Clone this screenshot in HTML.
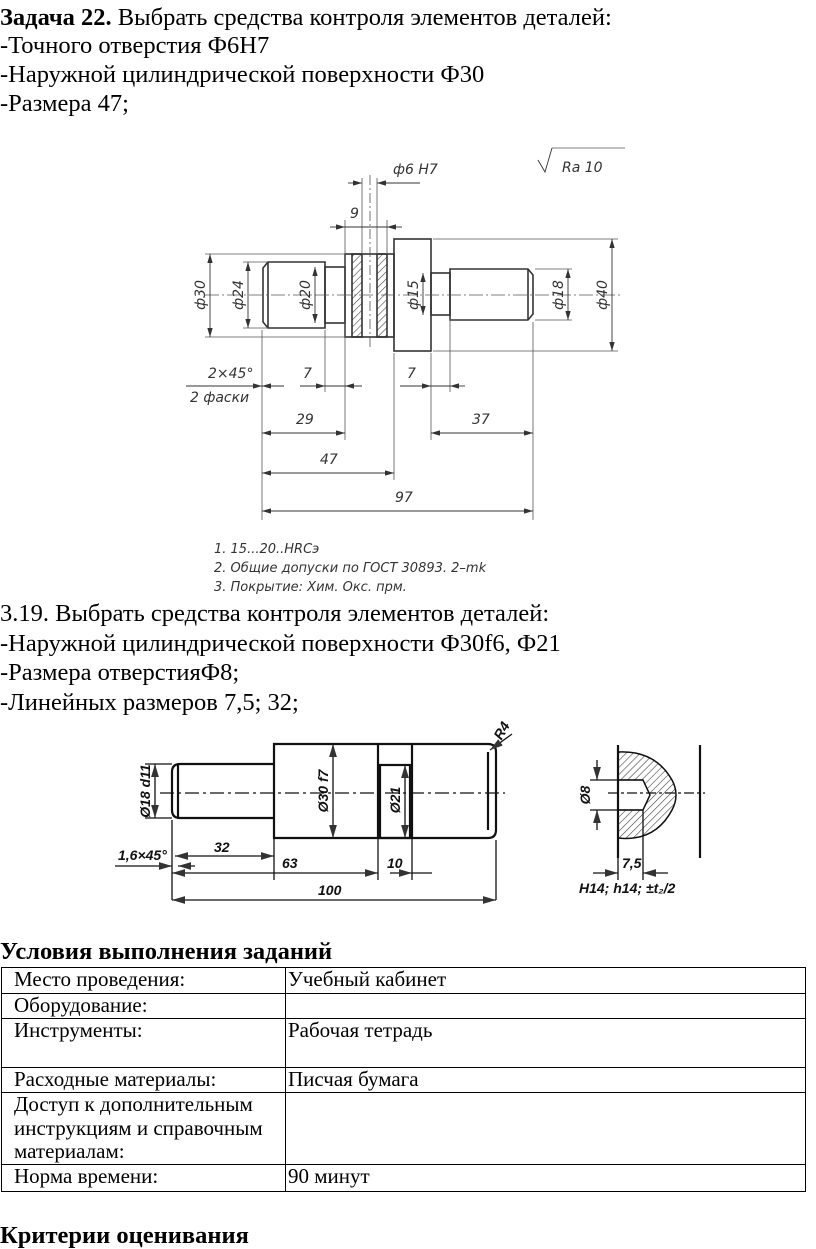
<!DOCTYPE html>
<html><head><meta charset="utf-8"><style>
body{margin:0;width:816px;height:1248px;background:#fff;position:relative;overflow:hidden;font-family:"Liberation Serif","Noto Serif CJK SC",serif;color:#000}
.t{position:absolute;left:0;font-size:24.5px;white-space:nowrap;line-height:26px}
svg{position:absolute;left:0;top:0}
table{position:absolute;left:1px;top:967px;width:805px;border-collapse:collapse;font-size:21px}
td{border:1px solid #000;padding:0 0 0 12px;vertical-align:top;line-height:23.5px}
td+td{padding-left:2px}
</style></head><body>
<div class="t" style="top:5px"><b>Задача 22.</b> Выбрать средства контроля элементов деталей:</div>
<div class="t" style="top:33px">-Точного отверстия Ф6Н7</div>
<div class="t" style="top:62px">-Наружной цилиндрической поверхности Ф30</div>
<div class="t" style="top:91px">-Размера 47;</div>
<div class="t" style="top:601px">3.19. Выбрать средства контроля элементов деталей:</div>
<div class="t" style="top:631px">-Наружной цилиндрической поверхности Ф30f6, Ф21</div>
<div class="t" style="top:660px">-Размера отверстияФ8;</div>
<div class="t" style="top:690px">-Линейных размеров 7,5; 32;</div>
<div class="t" style="top:939px"><b>Условия выполнения заданий</b></div>
<div class="t" style="top:1223px"><b>Критерии оценивания</b></div>

<svg width="816" height="1248" viewBox="0 0 816 1248">
<defs>
<marker id="a" viewBox="0 0 10 6" refX="10" refY="3" markerWidth="10" markerHeight="6" orient="auto-start-reverse"><path d="M0,0L10,3L0,6z" fill="#333"/></marker>
<pattern id="h" width="5" height="5" patternUnits="userSpaceOnUse" patternTransform="rotate(45)"><line x1="0" y1="0" x2="0" y2="5" stroke="#444" stroke-width="1.2"/></pattern>
</defs>
<g fill="none" stroke="#333" stroke-width="1.6">
<path d="M268,262H325V328H268L263,322V268Z"/><line x1="268" y1="262" x2="268" y2="328"/>
<rect x="325" y="267" width="20" height="56"/>
<rect x="345" y="254" width="49" height="83"/>
<rect x="352" y="254" width="10" height="83" fill="url(#h)"/>
<rect x="377" y="254" width="10" height="83" fill="url(#h)"/>
<rect x="394" y="239" width="37" height="112"/>
<rect x="431" y="273" width="19" height="42"/>
<path d="M450,269H528L533,275V314L528,320H450Z"/><line x1="528" y1="269" x2="528" y2="320"/>
</g>
<g stroke="#555" stroke-width="0.8" fill="none">
<line x1="205" y1="295" x2="620" y2="295" stroke-dasharray="14,3,2,3"/>
<line x1="370" y1="175" x2="370" y2="350" stroke-dasharray="10,3,2,3"/>
<line x1="205" y1="254" x2="345" y2="254"/><line x1="205" y1="337" x2="345" y2="337"/>
<line x1="243" y1="262" x2="268" y2="262"/><line x1="243" y1="328" x2="268" y2="328"/>
<line x1="433" y1="239" x2="618" y2="239"/><line x1="433" y1="351" x2="618" y2="351"/>
<line x1="535" y1="269" x2="572" y2="269"/><line x1="535" y1="320" x2="572" y2="320"/>
<line x1="262" y1="330" x2="262" y2="520"/><line x1="325" y1="330" x2="325" y2="392"/>
<line x1="345" y1="220" x2="345" y2="440"/><line x1="394" y1="353" x2="394" y2="480"/>
<line x1="431" y1="353" x2="431" y2="440"/><line x1="450" y1="318" x2="450" y2="392"/>
<line x1="533" y1="322" x2="533" y2="520"/>
<line x1="362" y1="178" x2="362" y2="254"/><line x1="377" y1="178" x2="377" y2="254"/>
<line x1="387" y1="220" x2="387" y2="254"/>
<line x1="552" y1="148" x2="625" y2="148"/>
</g>
<g stroke="#333" stroke-width="0.9" fill="none">
<line x1="210" y1="254" x2="210" y2="337" marker-start="url(#a)" marker-end="url(#a)"/>
<line x1="248" y1="262" x2="248" y2="328" marker-start="url(#a)" marker-end="url(#a)"/>
<line x1="315" y1="267" x2="315" y2="323" marker-start="url(#a)" marker-end="url(#a)"/>
<line x1="423" y1="273" x2="423" y2="315" marker-start="url(#a)" marker-end="url(#a)"/>
<line x1="568" y1="269" x2="568" y2="320" marker-start="url(#a)" marker-end="url(#a)"/>
<line x1="612" y1="239" x2="612" y2="351" marker-start="url(#a)" marker-end="url(#a)"/>
<line x1="186" y1="386" x2="262" y2="386" marker-end="url(#a)"/><line x1="262" y1="386" x2="284" y2="386" marker-start="url(#a)"/>
<line x1="300" y1="386" x2="325" y2="386" marker-end="url(#a)"/><line x1="345" y1="386" x2="362" y2="386" marker-start="url(#a)"/><line x1="325" y1="386" x2="345" y2="386"/>
<line x1="400" y1="386" x2="431" y2="386" marker-end="url(#a)"/><line x1="450" y1="386" x2="465" y2="386" marker-start="url(#a)"/><line x1="431" y1="386" x2="450" y2="386"/>
<line x1="262" y1="433" x2="345" y2="433" marker-start="url(#a)" marker-end="url(#a)"/>
<line x1="431" y1="433" x2="533" y2="433" marker-start="url(#a)" marker-end="url(#a)"/>
<line x1="262" y1="473" x2="394" y2="473" marker-start="url(#a)" marker-end="url(#a)"/>
<line x1="262" y1="511" x2="533" y2="511" marker-start="url(#a)" marker-end="url(#a)"/>
<line x1="330" y1="227" x2="345" y2="227" marker-end="url(#a)"/><line x1="387" y1="227" x2="402" y2="227" marker-start="url(#a)"/><line x1="345" y1="227" x2="387" y2="227"/>
<line x1="348" y1="183" x2="362" y2="183" marker-end="url(#a)"/><line x1="377" y1="183" x2="420" y2="183" marker-start="url(#a)"/>
<path d="M538,160L545,172L552,148"/>
</g>
<g font-family="DejaVu Sans,sans-serif" font-style="italic" font-size="14" fill="#333" stroke="none">
<text x="393" y="174">ф6 Н7</text><text x="350" y="218">9</text>
<text x="562" y="172">Ra  10</text>
<text transform="translate(205,295) rotate(-90)" text-anchor="middle">ф30</text>
<text transform="translate(243,295) rotate(-90)" text-anchor="middle">ф24</text>
<text transform="translate(310,295) rotate(-90)" text-anchor="middle">ф20</text>
<text transform="translate(418,295) rotate(-90)" text-anchor="middle">ф15</text>
<text transform="translate(563,295) rotate(-90)" text-anchor="middle">ф18</text>
<text transform="translate(607,295) rotate(-90)" text-anchor="middle">ф40</text>
<text x="208" y="378">2×45°</text><text x="190" y="402">2 фаски</text>
<text x="303" y="378">7</text><text x="407" y="378">7</text>
<text x="296" y="424">29</text><text x="472" y="424">37</text>
<text x="320" y="464">47</text><text x="395" y="502">97</text>
<text x="214" y="553" font-size="13">1. 15...20..HRCэ</text>
<text x="214" y="572" font-size="13">2. Общие допуски по ГОСТ 30893. 2–mk</text>
<text x="214" y="591" font-size="13">3. Покрытие: Хим. Окс. прм.</text>
</g>
<g fill="none" stroke="#111" stroke-width="2.2">
<path d="M274,764H180Q172,764 172,772V810Q172,818 180,818H274"/><line x1="178" y1="764" x2="178" y2="818"/>
<path d="M274,744H488Q496,744 496,752V830Q496,838 488,838H274Z"/>
<rect x="380" y="765" width="30" height="73"/>
<line x1="378" y1="744" x2="378" y2="838"/><line x1="412" y1="744" x2="412" y2="838"/>
<line x1="488" y1="752" x2="488" y2="830"/>
<path d="M618,745V858"/>
<path d="M700,745V858"/>
</g>
<path d="M618,752Q655,750 672,780Q680,795 672,810Q655,842 618,838V810H643L650,795L643,780H618Z" fill="url(#h)" stroke="#111" stroke-width="1.5"/>
<g stroke="#111" stroke-width="1.3" fill="none">
<line x1="160" y1="793" x2="505" y2="793" stroke-dasharray="14,4,3,4"/>
<line x1="608" y1="793" x2="705" y2="793" stroke-dasharray="10,3,3,3"/>
<line x1="145" y1="764" x2="172" y2="764"/><line x1="145" y1="818" x2="172" y2="818"/>
<line x1="155" y1="764" x2="155" y2="818" marker-start="url(#a)" marker-end="url(#a)"/>
<line x1="333" y1="744" x2="333" y2="838" marker-start="url(#a)" marker-end="url(#a)"/>
<line x1="405" y1="765" x2="405" y2="838" marker-start="url(#a)" marker-end="url(#a)"/>
<line x1="172" y1="820" x2="172" y2="900"/><line x1="274" y1="838" x2="274" y2="880"/>
<line x1="496" y1="840" x2="496" y2="900"/><line x1="378" y1="838" x2="378" y2="880"/><line x1="412" y1="838" x2="412" y2="880"/>
<line x1="115" y1="866" x2="172" y2="866" marker-end="url(#a)"/><line x1="178" y1="866" x2="195" y2="866" marker-start="url(#a)"/>
<line x1="175" y1="856" x2="274" y2="856" marker-start="url(#a)" marker-end="url(#a)"/>
<line x1="172" y1="873" x2="378" y2="873" marker-start="url(#a)" marker-end="url(#a)"/>
<line x1="390" y1="873" x2="412" y2="873" marker-end="url(#a)"/><line x1="412" y1="873" x2="432" y2="873"/>
<line x1="172" y1="900" x2="496" y2="900" marker-start="url(#a)" marker-end="url(#a)"/>
<line x1="490" y1="750" x2="512" y2="734" marker-start="url(#a)"/>
<line x1="590" y1="780" x2="643" y2="780"/><line x1="590" y1="810" x2="643" y2="810"/>
<line x1="597" y1="760" x2="597" y2="780" marker-end="url(#a)"/><line x1="597" y1="810" x2="597" y2="830" marker-start="url(#a)"/>
<line x1="643" y1="810" x2="643" y2="880"/><line x1="618" y1="858" x2="618" y2="880"/>
<line x1="593" y1="873" x2="618" y2="873" marker-end="url(#a)"/><line x1="643" y1="873" x2="668" y2="873" marker-start="url(#a)"/>
</g>
<g font-family="Liberation Sans,sans-serif" font-style="italic" font-weight="bold" font-size="14" fill="#111">
<text transform="translate(150,791) rotate(-90)" text-anchor="middle">Ø18 d11</text>
<text transform="translate(328,791) rotate(-90)" text-anchor="middle">Ø30 f7</text>
<text transform="translate(400,800) rotate(-90)" text-anchor="middle">Ø21</text>
<text transform="translate(590,795) rotate(-90)" text-anchor="middle">Ø8</text>
<text x="118" y="860">1,6×45°</text><text x="214" y="852">32</text>
<text x="282" y="868">63</text><text x="387" y="868">10</text><text x="318" y="895">100</text>
<text x="494" y="738" transform="rotate(-60,500,733)">R4</text>
<text x="622" y="868">7,5</text><text x="579" y="893">H14; h14; ±t₂/2</text>
</g>
</svg>
<table>
<tr style="height:26px"><td style="width:271px">Место проведения:</td><td>Учебный кабинет</td></tr>
<tr style="height:25px"><td>Оборудование:</td><td></td></tr>
<tr style="height:49px"><td>Инструменты:</td><td>Рабочая тетрадь</td></tr>
<tr style="height:25px"><td>Расходные материалы:</td><td>Писчая бумага</td></tr>
<tr style="height:71px"><td>Доступ к дополнительным инструкциям и справочным материалам:</td><td></td></tr>
<tr style="height:27px"><td>Норма времени:</td><td>90 минут</td></tr>
</table>
</body></html>
